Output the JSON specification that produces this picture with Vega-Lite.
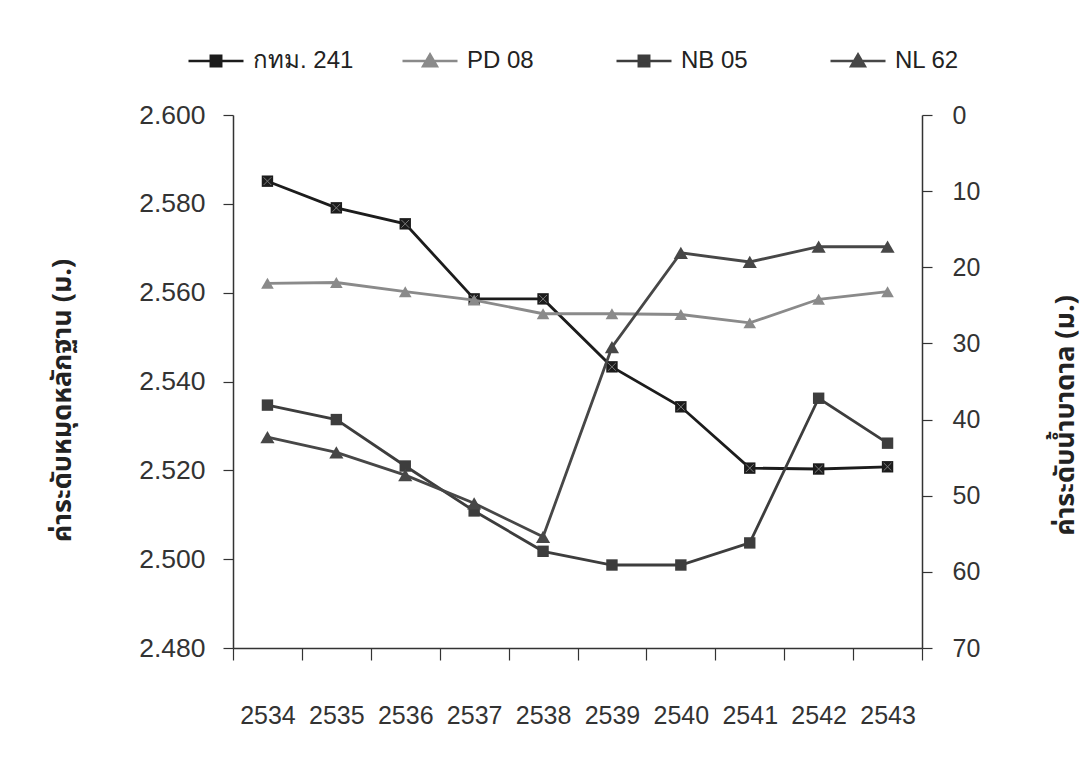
{
  "$schema": "https://vega.github.io/schema/vega-lite/v6.json",
  "autosize": {"type": "none"},
  "padding": {"left": 233, "top": 115, "right": 170, "bottom": 121},
  "width": 689,
  "height": 533,
  "background": "white",
  "config": {
    "view": {"stroke": null},
    "font": "Liberation Sans",
    "axis": {
      "grid": false,
      "domainColor": "#333333",
      "domainWidth": 1.5,
      "tickColor": "#333333",
      "tickWidth": 1.2,
      "labelColor": "#333333",
      "labelFont": "Liberation Sans",
      "labelFontSize": 25,
      "titleColor": "#222222",
      "titleFont": "Noto Sans Thai, Noto Sans, Liberation Sans",
      "titleFontSize": 27,
      "titleFontWeight": "bold"
    }
  },
  "datasets": {
    "benchmark": [
      {"year": "2534", "series": "กทม. 241", "value": 2.5851},
      {"year": "2535", "series": "กทม. 241", "value": 2.5791},
      {"year": "2536", "series": "กทม. 241", "value": 2.5755},
      {"year": "2537", "series": "กทม. 241", "value": 2.5586},
      {"year": "2538", "series": "กทม. 241", "value": 2.5586},
      {"year": "2539", "series": "กทม. 241", "value": 2.5433},
      {"year": "2540", "series": "กทม. 241", "value": 2.5343},
      {"year": "2541", "series": "กทม. 241", "value": 2.5205},
      {"year": "2542", "series": "กทม. 241", "value": 2.5203},
      {"year": "2543", "series": "กทม. 241", "value": 2.5208}
    ],
    "groundwater": [
      {"year": "2534", "series": "PD 08", "value": 22.1},
      {"year": "2535", "series": "PD 08", "value": 22.0},
      {"year": "2536", "series": "PD 08", "value": 23.2},
      {"year": "2537", "series": "PD 08", "value": 24.3},
      {"year": "2538", "series": "PD 08", "value": 26.1},
      {"year": "2539", "series": "PD 08", "value": 26.1},
      {"year": "2540", "series": "PD 08", "value": 26.2},
      {"year": "2541", "series": "PD 08", "value": 27.3},
      {"year": "2542", "series": "PD 08", "value": 24.2},
      {"year": "2543", "series": "PD 08", "value": 23.2},
      {"year": "2534", "series": "NB 05", "value": 38.1},
      {"year": "2535", "series": "NB 05", "value": 40.0},
      {"year": "2536", "series": "NB 05", "value": 46.1},
      {"year": "2537", "series": "NB 05", "value": 52.0},
      {"year": "2538", "series": "NB 05", "value": 57.3},
      {"year": "2539", "series": "NB 05", "value": 59.1},
      {"year": "2540", "series": "NB 05", "value": 59.1},
      {"year": "2541", "series": "NB 05", "value": 56.2},
      {"year": "2542", "series": "NB 05", "value": 37.2},
      {"year": "2543", "series": "NB 05", "value": 43.1},
      {"year": "2534", "series": "NL 62", "value": 42.3},
      {"year": "2535", "series": "NL 62", "value": 44.3},
      {"year": "2536", "series": "NL 62", "value": 47.3},
      {"year": "2537", "series": "NL 62", "value": 51.0},
      {"year": "2538", "series": "NL 62", "value": 55.4},
      {"year": "2539", "series": "NL 62", "value": 30.5},
      {"year": "2540", "series": "NL 62", "value": 18.1},
      {"year": "2541", "series": "NL 62", "value": 19.3},
      {"year": "2542", "series": "NL 62", "value": 17.3},
      {"year": "2543", "series": "NL 62", "value": 17.3}
    ]
  },
  "layer": [
    {
      "data": {"name": "benchmark"},
      "encoding": {
        "x": {
          "field": "year",
          "type": "ordinal",
          "scale": {"type": "band", "paddingInner": 0, "paddingOuter": 0},
          "axis": {
            "title": null,
            "labelAngle": 0,
            "tickBand": "extent",
            "tickSize": 12,
            "labelPadding": 43,
            "labelFontSize": 25
          }
        },
        "y": {
          "field": "value",
          "type": "quantitative",
          "scale": {"domain": [2.48, 2.6], "nice": false, "zero": false},
          "axis": {
            "orient": "left",
            "values": [2.48, 2.5, 2.52, 2.54, 2.56, 2.58, 2.6],
            "format": ".3f",
            "tickSize": 10,
            "labelPadding": 18,
            "labelFontSize": 26.5,
            "title": "ค่าระดับหมุดหลักฐาน (ม.)",
            "titleAngle": 270,
            "titleAlign": "center",
            "titleBaseline": "middle",
            "titleX": -171,
            "titleY": 285
          }
        },
        "color": {
          "field": "series",
          "type": "nominal",
          "scale": {
            "domain": ["กทม. 241", "PD 08", "NB 05", "NL 62"],
            "range": ["#1c1c1c", "#8a8a8a", "#3d3d3d", "#474747"]
          },
          "legend": {
            "orient": "none",
            "direction": "horizontal",
            "legendX": -46,
            "legendY": -83,
            "title": null,
            "padding": 0,
            "gridAlign": "all",
            "symbolSize": 3025,
            "symbolStrokeWidth": 2.5,
            "labelFont": "Liberation Sans",
            "labelFontSize": 24,
            "labelColor": "#222222",
            "labelOffset": 8,
            "columnPadding": 43,
            "encode": {
              "symbols": {
                "update": {
                  "shape": {"signal": "indexof(['PD 08','NL 62'], datum.value) >= 0 ? 'M-1,0H1M0,-0.24L0.25,0.19H-0.25Z' : 'M-1,0H1M-0.19,-0.19H0.19V0.19H-0.19Z'"},
                  "size": {"value": 3025},
                  "fill": {"scale": "color", "field": "value"},
                  "stroke": {"scale": "color", "field": "value"},
                  "strokeWidth": {"value": 2.5},
                  "opacity": {"value": 1}
                }
              }
            }
          }
        }
      },
      "layer": [
        {"mark": {"type": "line", "strokeWidth": 2.8}},
        {"mark": {"type": "point", "shape": "square", "filled": true, "size": 130, "opacity": 1}},
        {
          "mark": {"type": "point", "shape": "M-1,-1L1,1M-1,1L1,-1", "filled": false, "size": 60, "strokeWidth": 1, "opacity": 1},
          "encoding": {"color": {"value": "#7a7a7a"}}
        }
      ]
    },
    {
      "data": {"name": "groundwater"},
      "encoding": {
        "x": {
          "field": "year",
          "type": "ordinal",
          "scale": {"type": "band", "paddingInner": 0, "paddingOuter": 0},
          "axis": {
            "title": null,
            "labelAngle": 0,
            "tickBand": "extent",
            "tickSize": 12,
            "labelPadding": 43,
            "labelFontSize": 25
          }
        },
        "y": {
          "field": "value",
          "type": "quantitative",
          "scale": {"domain": [0, 70], "nice": false, "reverse": true},
          "axis": {
            "orient": "right",
            "values": [0, 10, 20, 30, 40, 50, 60, 70],
            "format": "d",
            "tickSize": 10,
            "labelPadding": 20,
            "title": "ค่าระดับน้ำบาดาล (ม.)",
            "titleAngle": 270,
            "titleAlign": "center",
            "titleBaseline": "middle",
            "titleX": 143,
            "titleY": 300
          }
        },
        "color": {
          "field": "series",
          "type": "nominal",
          "scale": {
            "domain": ["กทม. 241", "PD 08", "NB 05", "NL 62"],
            "range": ["#1c1c1c", "#8a8a8a", "#3d3d3d", "#474747"]
          }
        }
      },
      "layer": [
        {"mark": {"type": "line", "strokeWidth": 2.8}},
        {
          "transform": [{"filter": {"field": "series", "equal": "PD 08"}}],
          "mark": {"type": "point", "shape": "triangle-up", "filled": true, "size": 160, "opacity": 1}
        },
        {
          "transform": [{"filter": {"field": "series", "equal": "NB 05"}}],
          "mark": {"type": "point", "shape": "square", "filled": true, "size": 130, "opacity": 1}
        },
        {
          "transform": [{"filter": {"field": "series", "equal": "NL 62"}}],
          "mark": {"type": "point", "shape": "triangle-up", "filled": true, "size": 200, "opacity": 1}
        }
      ]
    }
  ],
  "resolve": {"scale": {"y": "independent"}, "axis": {"y": "independent"}}
}
